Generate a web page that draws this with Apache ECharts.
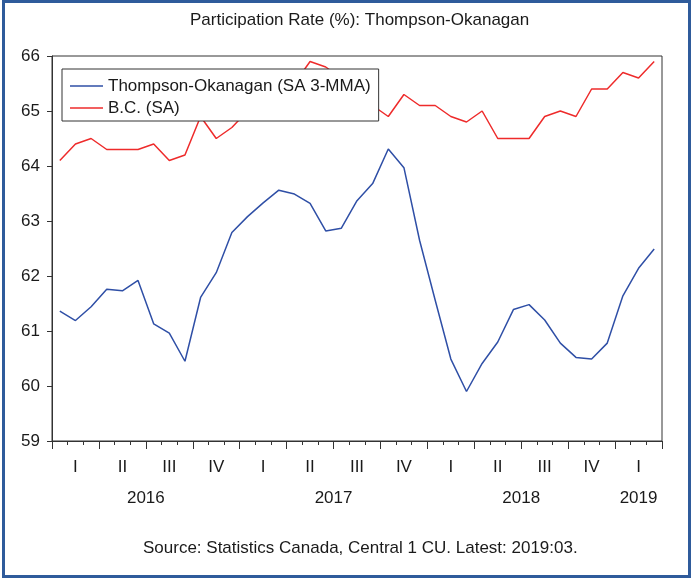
<!DOCTYPE html>
<html>
<head>
<meta charset="utf-8">
<script src="https://cdn.jsdelivr.net/npm/echarts@6/dist/echarts.min.js"></script>
<style>
  html, body { margin: 0; padding: 0; background: #fff; }
  #wrap { position: relative; width: 691px; height: 579px; }
  #chart { position: absolute; left: 0; top: 0; width: 691px; height: 579px; }
  #frame { position: absolute; left: 2px; top: 0; right: 0; bottom: 1px; border: 3px solid #2f5b9b; pointer-events: none; }
</style>
</head>
<body>
<div id="wrap">
  <div id="chart"></div>
  <div id="frame"></div>
</div>
<script>
// monthly, Jan 2016 .. Mar 2019
const months = []
for (let y = 2016; y <= 2019; y++) {
  for (let m = 1; m <= 12; m++) {
    if (y === 2019 && m > 3) break
    months.push(y + ':' + String(m).padStart(2, '0'))
  }
}

const quarterLabels = ['I', 'II', 'III', 'IV', 'I', 'II', 'III', 'IV', 'I', 'II', 'III', 'IV', 'I']
const yearLabels = ['2016', '2017', '2018', '2019']
const yTicks = [59, 60, 61, 62, 63, 64, 65, 66]

const thompson = [
  61.36, 61.19, 61.44, 61.76, 61.73, 61.92, 61.13, 60.96, 60.45, 61.61, 62.06, 62.79,
  63.08, 63.33, 63.56, 63.49, 63.32, 62.82, 62.87, 63.37, 63.68, 64.31, 63.97, 62.65,
  61.56, 60.49, 59.90, 60.41, 60.80, 61.39, 61.48, 61.20, 60.78, 60.52, 60.49, 60.78,
  61.64, 62.14, 62.49
]

const bc = [
  64.1, 64.4, 64.5, 64.3, 64.3, 64.3, 64.4, 64.1, 64.2, 64.9, 64.5, 64.7,
  65.0, 65.1, 65.3, 65.5, 65.9, 65.8, 65.6, 65.3, 65.1, 64.9, 65.3, 65.1,
  65.1, 64.9, 64.8, 65.0, 64.5, 64.5, 64.5, 64.9, 65.0, 64.9, 65.4, 65.4,
  65.7, 65.6, 65.9
]

// centre of each year's months, in month units along the axis
const yearCentre = {}
yearLabels.forEach(yr => {
  const idx = months.map((m, i) => m.startsWith(yr) ? i : -1).filter(i => i >= 0)
  yearCentre[(idx[0] + idx[idx.length - 1] + 1) / 2] = yr
})

const font = "'Liberation Sans', Arial, sans-serif"
const textColor = '#1a1a1a'
const blue = '#2f4fa6'
const red = '#ee2b2b'

const chart = echarts.init(document.getElementById('chart'))

chart.setOption({
  animation: false,
  textStyle: { fontFamily: font },
  title: [
    {
      text: 'Participation Rate (%): Thompson-Okanagan',
      left: 185,
      top: 7,
      textStyle: { fontSize: 17, fontWeight: 'normal', color: textColor, fontFamily: font }
    },
    {
      text: 'Source: Statistics Canada, Central 1 CU. Latest: 2019:03.',
      left: 138,
      top: 535,
      textStyle: { fontSize: 17, fontWeight: 'normal', color: textColor, fontFamily: font }
    }
  ],
  legend: {
    orient: 'vertical',
    left: 62,
    top: 69,
    padding: [7, 8, 3, 8],
    itemGap: 2,
    itemWidth: 33,
    itemHeight: 1.5,
    icon: 'rect',
    backgroundColor: '#fff',
    borderColor: '#333',
    borderWidth: 1,
    textStyle: { fontSize: 17, lineHeight: 20, color: textColor, fontFamily: font },
    data: [
      { name: 'Thompson-Okanagan (SA 3-MMA)', itemStyle: { color: blue } },
      { name: 'B.C. (SA)', itemStyle: { color: red } }
    ]
  },
  grid: {
    left: 52,
    right: 29,
    top: 56,
    bottom: 138,
    show: true,
    backgroundColor: '#fff',
    borderColor: '#333',
    borderWidth: 1
  },
  xAxis: [
    {
      type: 'category',
      data: months,
      boundaryGap: true,
      position: 'bottom',
      axisLine: { show: true, lineStyle: { color: '#333', width: 1 } },
      axisTick: { show: true, interval: 0, length: 4, lineStyle: { color: '#333' } },
      axisLabel: { show: false },
      splitLine: { show: false }
    },
    {
      type: 'category',
      data: quarterLabels,
      boundaryGap: true,
      position: 'bottom',
      axisLine: { show: false },
      axisTick: { show: true, interval: 0, length: 8, lineStyle: { color: '#333' } },
      axisLabel: { interval: 0, fontSize: 17, color: textColor, margin: 18, fontFamily: font },
      splitLine: { show: false }
    },
    {
      type: 'value',
      min: 0,
      max: months.length,
      interval: 1.5,
      position: 'bottom',
      axisLine: { show: false },
      axisTick: { show: false },
      splitLine: { show: false },
      axisLabel: {
        fontSize: 17,
        color: textColor,
        margin: 49,
        fontFamily: font,
        showMinLabel: true,
        showMaxLabel: true,
        formatter: v => yearCentre[v] || ''
      }
    }
  ],
  yAxis: {
    type: 'value',
    min: yTicks[0],
    max: yTicks[yTicks.length - 1],
    interval: 1,
    axisLine: { show: true, lineStyle: { color: '#333', width: 1 } },
    axisTick: { show: true, length: 5, lineStyle: { color: '#333' } },
    axisLabel: { fontSize: 17, color: textColor, margin: 12, fontFamily: font },
    splitLine: { show: false }
  },
  series: [
    {
      name: 'Thompson-Okanagan (SA 3-MMA)',
      type: 'line',
      data: thompson,
      symbol: 'none',
      color: blue,
      lineStyle: { color: blue, width: 1.5 }
    },
    {
      name: 'B.C. (SA)',
      type: 'line',
      data: bc,
      symbol: 'none',
      color: red,
      lineStyle: { color: red, width: 1.5 }
    }
  ]
})
</script>
</body>
</html>
